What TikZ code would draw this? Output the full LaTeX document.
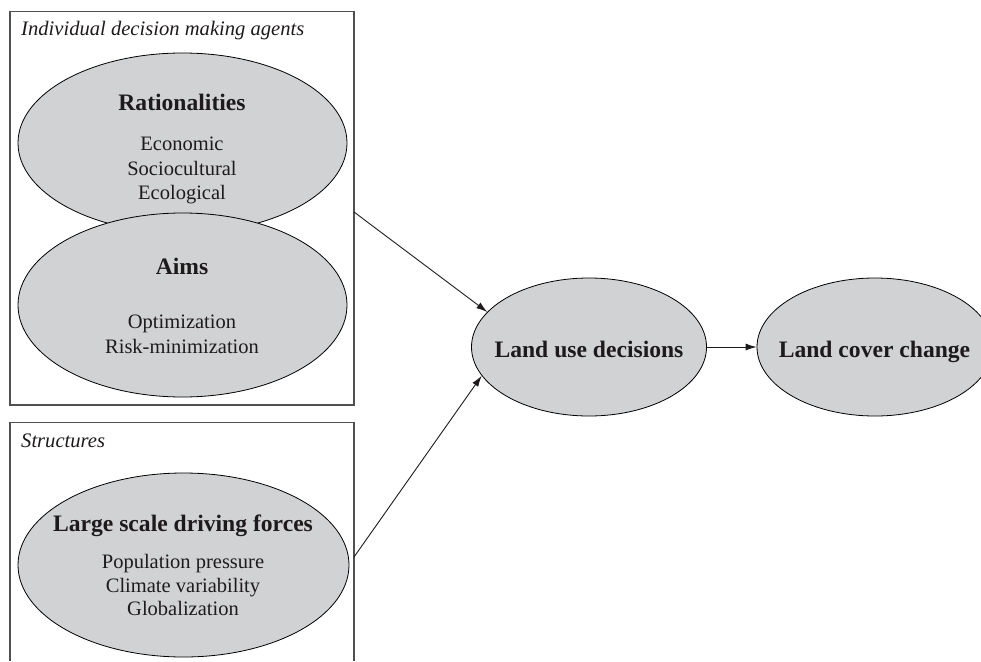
\documentclass[tikz,border=0pt]{standalone}
\usepackage{fontspec}
\setmainfont{Liberation Serif}
\usetikzlibrary{shapes.geometric,arrows.meta}
\definecolor{ellfill}{RGB}{209,210,212}
\definecolor{boxline}{RGB}{80,80,80}
\definecolor{ink}{RGB}{30,26,27}
\begin{document}
\begin{tikzpicture}[x=1pt,y=-1pt,
  ell/.style={ellipse,draw=black,line width=0.8pt,fill=ellfill,inner sep=0pt},
  framebox/.style={draw=boxline,line width=1.2pt},
  title/.style={anchor=base,inner sep=0pt,text=ink,font=\fontsize{23.6}{28}\selectfont\bfseries},
  body/.style={anchor=base,inner sep=0pt,text=ink,font=\fontsize{20.5}{24}\selectfont},
  boxlabel/.style={anchor=base west,inner sep=0pt,text=ink,font=\fontsize{20.6}{24}\selectfont\itshape},
  conn/.style={draw=ink,line width=0.9pt,-{Latex[length=11pt,width=7pt]}}]
\useasboundingbox (0,0) rectangle (981,661);
% frames
\draw[framebox] (10,11.5) rectangle (354,405);
\draw[framebox] (10,661) -- (10,422.5) -- (354,422.5) -- (354,661);
\node[boxlabel] (lab1) at (21,36) {Individual decision making agents};
\node[boxlabel] (lab2) at (21,447.5) {Structures};
% ellipses
\node[ell,minimum width=329pt,minimum height=180pt] (rat) at (182.5,143) {};
\node[ell,minimum width=329pt,minimum height=184pt] (aims) at (182.5,305) {};
\node[ell,minimum width=331pt,minimum height=184pt] (large) at (183.5,565) {};
\node[ell,minimum width=235pt,minimum height=138pt] (lud) at (589,347) {};
\node[ell,minimum width=236pt,minimum height=138pt] (lcc) at (875,347) {};
% texts
\node[title] (ratT) at (182,110) {Rationalities};
\node[body] (rat1) at (182,150) {Economic};
\node[body] (rat2) at (182,175) {Sociocultural};
\node[body] (rat3) at (182,199) {Ecological};
\node[title] (aimsT) at (182,274) {Aims};
\node[body] (aims1) at (182,328) {Optimization};
\node[body] (aims2) at (182,353) {Risk-minimization};
\node[title] (largeT) at (183,531) {Large scale driving forces};
\node[body] (large1) at (183,568.5) {Population pressure};
\node[body] (large2) at (183,592) {Climate variability};
\node[body] (large3) at (183,615) {Globalization};
\node[title] (ludT) at (589,357) {Land use decisions};
\node[title] (lccT) at (874.5,357) {Land cover change};
% connectors
\coordinate (s1) at (354,212);
\coordinate (s2) at (354,557);
\draw[conn] (s1) -- (lud.161);
\draw[conn] (s2) -- (lud.195);
\draw[conn] (lud.east) -- (lcc.west);
\end{tikzpicture}
\end{document}
